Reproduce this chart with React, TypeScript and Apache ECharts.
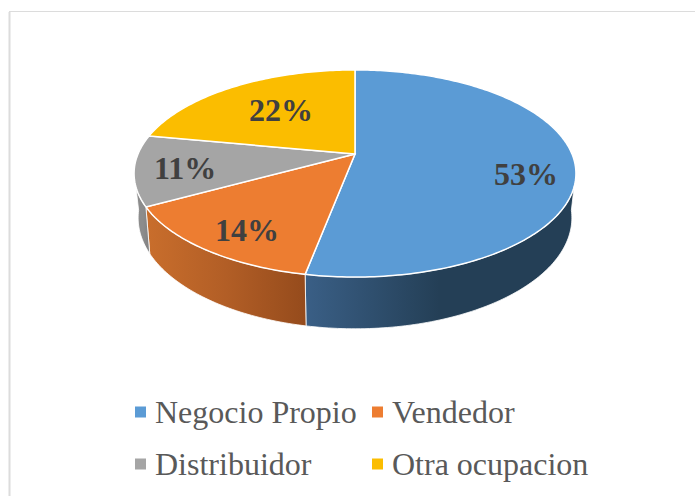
import React, { useEffect, useRef } from "react";
import * as echarts from "echarts";

const categories = ["Negocio Propio", "Vendedor", "Distribuidor", "Otra ocupacion"];
const shares = [53, 14, 11, 22];
const labels = ["53%", "14%", "11%", "22%"];

const topColors = ["#5B9BD5", "#ED7D31", "#A5A5A5", "#FBBD00"];
const wallStops: string[][] = [
  ["#3A5F86", "#243F56", "#243F56"],
  ["#C96E2C", "#B25E26", "#954B1C"],
  ["#8C8C8C", "#8C8C8C", "#808080"],
  [],
];
// Where each percentage sits (layout, not data)
const labelAnchors = [
  [526, 174],
  [247, 230],
  [185, 168],
  [281, 110],
];

const P = 0.188;
const TOP = { cx: 355, cy: 154, R: 217, S: 99.9 };
const BOTTOM = { cx: 355, cy: 197, R: 213, S: 107 };
// Silhouette angles: range of the rim that can be seen from the viewer
const TOP_VIS = [108, 252];
const BOT_VIS = [97, 263];

function project(d: typeof TOP, deg: number): number[] {
  const a = (deg * Math.PI) / 180;
  const u = Math.sin(a);
  const v = -Math.cos(a);
  const w = 1 - P * v;
  return [d.cx + (d.R * u) / w, d.cy + (d.S * v) / w];
}

function arc(d: typeof TOP, from: number, to: number): number[][] {
  const n = Math.max(2, Math.ceil(Math.abs(to - from)));
  const pts: number[][] = [];
  for (let i = 0; i <= n; i++) pts.push(project(d, from + ((to - from) * i) / n));
  return pts;
}

const total = shares.reduce((s, v) => s + v, 0);

function makeRender(index: number) {
  return (_params: any, api: any) => {
    const before = shares.slice(0, index).reduce((s, v) => s + v, 0);
    const start = (before / total) * 360;
    const end = start + (api.value(0) / total) * 360;
    const children: any[] = [];

    const tFrom = Math.max(start, TOP_VIS[0]);
    const tTo = Math.min(end, TOP_VIS[1]);
    const bFrom = Math.max(start, BOT_VIS[0]);
    const bTo = Math.min(end, BOT_VIS[1]);
    if (wallStops[index].length && tTo > tFrom) {
      const pts = [...arc(TOP, tFrom, tTo), ...arc(BOTTOM, bTo, bFrom)];
      const stops = wallStops[index];
      children.push({
        type: "polygon",
        shape: { points: pts },
        style: {
          fill: new echarts.graphic.LinearGradient(0, 0, 1, 0, [
            { offset: 0, color: stops[0] },
            { offset: 0.5, color: stops[1] },
            { offset: 1, color: stops[2] },
          ]),
          stroke: "#ffffff",
          lineWidth: 0.8,
        },
      });
    }
    children.push({
      type: "polygon",
      shape: { points: [[TOP.cx, TOP.cy], ...arc(TOP, start, end)] },
      style: { fill: topColors[index], stroke: "#ffffff", lineWidth: 1.5 },
    });
    return { type: "group", children };
  };
}

export default function App() {
  const ref = useRef<HTMLDivElement>(null);
  useEffect(() => {
    const chart = echarts.init(ref.current!, undefined, { renderer: "svg" });
    const legendBase = {
      orient: "vertical" as const,
      icon: "rect",
      itemWidth: 11,
      itemHeight: 11,
      itemGap: 20,
      selectedMode: false,
      textStyle: {
        fontFamily: "Liberation Serif",
        fontSize: 32,
        color: "#595959",
        padding: [0, 0, 0, 4],
      },
    };
    chart.setOption({
      animation: false,
      backgroundColor: "#ffffff",
      legend: [
        { ...legendBase, left: 130, top: 391, data: [categories[0], categories[2]] },
        { ...legendBase, left: 367, top: 391, data: [categories[1], categories[3]] },
      ],
      graphic: [
        {
          type: "line",
          shape: { x1: 9.5, y1: 12, x2: 9.5, y2: 496 },
          style: { stroke: "#DCDCDC", lineWidth: 2 },
        },
        {
          type: "line",
          shape: { x1: 9, y1: 11.5, x2: 695, y2: 11.5 },
          style: { stroke: "#DCDCDC", lineWidth: 1 },
        },
        ...labels.map((t, i) => ({
          type: "text",
          z: 100,
          x: labelAnchors[i][0],
          y: labelAnchors[i][1],
          style: {
            text: t,
            fontFamily: "Liberation Serif",
            fontWeight: "bold",
            fontSize: 32,
            fill: "#404040",
            align: "center",
            verticalAlign: "middle",
          },
        })),
      ],
      series: categories.map((name, i) => ({
        type: "custom",
        name,
        coordinateSystem: "none",
        silent: true,
        itemStyle: { color: topColors[i] },
        renderItem: makeRender(i),
        data: [[shares[i]]],
      })),
    });
    return () => chart.dispose();
  }, []);
  return (
    <div
      ref={ref}
      style={{ position: "absolute", left: 0, top: 0, width: 695, height: 496 }}
    />
  );
}
